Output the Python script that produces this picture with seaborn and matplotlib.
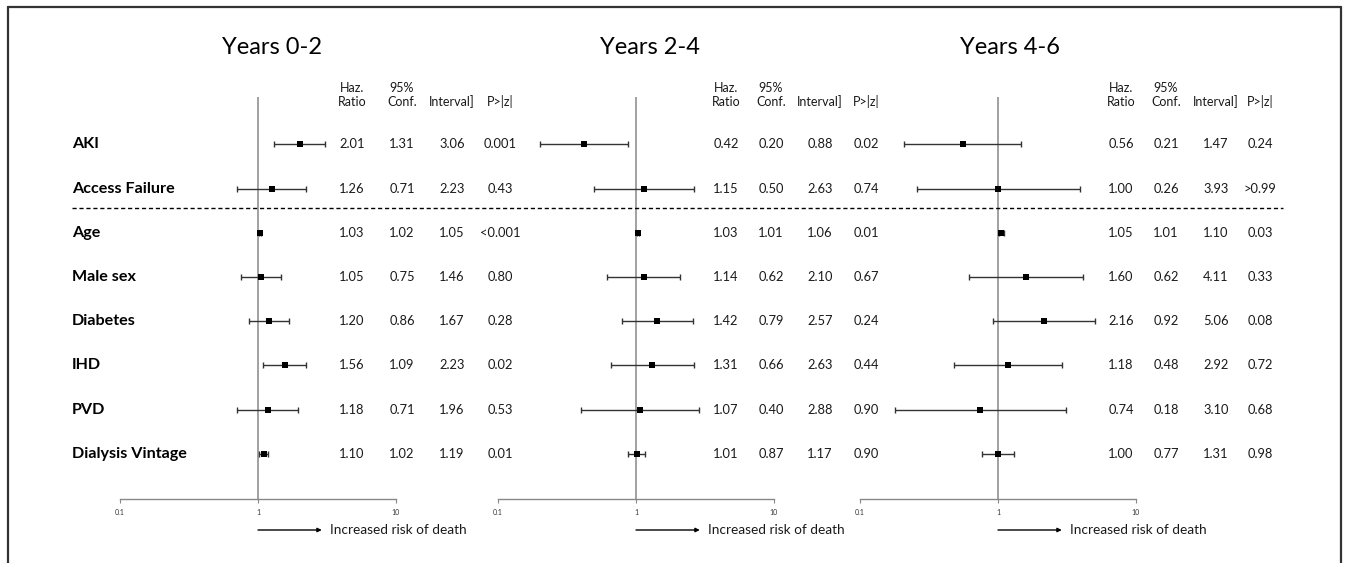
import numpy as np
import pandas as pd
import matplotlib
matplotlib.use("Agg")
import matplotlib.pyplot as plt
import seaborn as sns
from matplotlib.transforms import blended_transform_factory
from matplotlib.lines import Line2D

# ---------------- data ----------------
variables = ["AKI", "Access Failure", "Age", "Male sex", "Diabetes", "IHD", "PVD", "Dialysis Vintage"]
titles = ["Years 0-2", "Years 2-4", "Years 4-6"]

p1_hr = [2.01, 1.26, 1.03, 1.05, 1.20, 1.56, 1.18, 1.10]
p1_lo = [1.31, 0.71, 1.02, 0.75, 0.86, 1.09, 0.71, 1.02]
p1_hi = [3.06, 2.23, 1.05, 1.46, 1.67, 2.23, 1.96, 1.19]
p1_p = ["0.001", "0.43", "<0.001", "0.80", "0.28", "0.02", "0.53", "0.01"]

p2_hr = [0.42, 1.15, 1.03, 1.14, 1.42, 1.31, 1.07, 1.01]
p2_lo = [0.20, 0.50, 1.01, 0.62, 0.79, 0.66, 0.40, 0.87]
p2_hi = [0.88, 2.63, 1.06, 2.10, 2.57, 2.63, 2.88, 1.17]
p2_p = ["0.02", "0.74", "0.01", "0.67", "0.24", "0.44", "0.90", "0.90"]

p3_hr = [0.56, 1.00, 1.05, 1.60, 2.16, 1.18, 0.74, 1.00]
p3_lo = [0.21, 0.26, 1.01, 0.62, 0.92, 0.48, 0.18, 0.77]
p3_hi = [1.47, 3.93, 1.10, 4.11, 5.06, 2.92, 3.10, 1.31]
p3_p = ["0.24", ">0.99", "0.03", "0.33", "0.08", "0.72", "0.68", "0.98"]

header_top = ["Haz.", "95%", "", ""]
header_bottom = ["Ratio", "Conf.", "Interval]", "P>|z|"]
xticks = [0.1, 1, 10]
xticklabels = ["0.1", "1", "10"]
arrow_label = "Increased risk of death"

panels = [
    (p1_hr, p1_lo, p1_hi, p1_p),
    (p2_hr, p2_lo, p2_hi, p2_p),
    (p3_hr, p3_lo, p3_hi, p3_p),
]

# ---------------- layout (pixels) ----------------
W, H = 1345, 563
sns.set_theme(style="white")
plt.rcParams["font.family"] = ["Lato", "DejaVu Sans"]

fig = plt.figure(figsize=(W / 100, H / 100), dpi=100)
fig.patch.set_facecolor("white")

ax_left_px = [120, 498, 860]
ax_width_px = 276
ax_top_px, ax_bot_px = 97, 499
col_px = [[352, 402, 452, 500], [726, 771, 820, 866], [1121, 1166, 1216, 1260]]
title_px = [272, 650, 1010]
label_x_px = 72
row_top_margin, row_bot_margin = 1.07, 1.02

def fx(px):
    return px / W

def fy(py):
    return 1 - py / H

n = len(variables)
axes = []
for k, (hr, lo, hi, pv) in enumerate(panels):
    ax = fig.add_axes([fx(ax_left_px[k]), fy(ax_bot_px), ax_width_px / W, (ax_bot_px - ax_top_px) / H])
    axes.append(ax)
    df = pd.DataFrame({"var": variables, "hr": hr, "lo": lo, "hi": hi, "row": np.arange(n)})
    ax.set_xscale("log")
    ax.set_xlim(0.1, 10)
    ax.set_ylim(n - 1 + row_bot_margin, -row_top_margin)
    ax.axvline(1, color="#9a9a9a", lw=1.3, zorder=1)
    ax.errorbar(df["hr"], df["row"],
                xerr=[df["hr"] - df["lo"], df["hi"] - df["hr"]],
                fmt="none", ecolor="#333333", elinewidth=1.0, capsize=2.2, capthick=1.0,
                zorder=2, clip_on=False)
    sns.scatterplot(data=df, x="hr", y="row", marker="s", s=22, color="black",
                    edgecolor="black", linewidth=0, ax=ax, zorder=3, legend=False, clip_on=False)
    ax.set_xlabel("")
    ax.set_ylabel("")
    ax.set_yticks([])
    ax.set_xticks(xticks)
    ax.set_xticklabels(xticklabels, fontsize=5, color="#333333")
    ax.xaxis.set_minor_locator(matplotlib.ticker.NullLocator())
    ax.tick_params(axis="x", which="major", direction="out", length=3, width=0.8,
                   color="#888888", pad=4, bottom=True)
    for s in ["top", "left", "right"]:
        ax.spines[s].set_visible(False)
    ax.spines["bottom"].set_color("#888888")
    ax.spines["bottom"].set_linewidth(1.0)
    ax.patch.set_alpha(0)

    # table columns
    tr = blended_transform_factory(fig.transFigure, ax.transData)
    for i in range(n):
        vals = [f"{hr[i]:.2f}", f"{lo[i]:.2f}", f"{hi[i]:.2f}", pv[i]]
        for c, v in enumerate(vals):
            fig.text(fx(col_px[k][c]), i, v, transform=tr, ha="center", va="center",
                     fontsize=9.3, color="#1a1a1a")
    for c in range(4):
        if header_top[c]:
            fig.text(fx(col_px[k][c]), fy(88), header_top[c], ha="center", va="center",
                     fontsize=9, color="#1a1a1a")
        fig.text(fx(col_px[k][c]), fy(102), header_bottom[c], ha="center", va="center",
                 fontsize=9, color="#1a1a1a")

    # title
    fig.text(fx(title_px[k]), fy(48), titles[k], ha="center", va="center", fontsize=17, color="black")

    # arrow
    ax.annotate("", xy=(2.9, fy(530)), xytext=(1, fy(530)),
                xycoords=("data", "figure fraction"), textcoords=("data", "figure fraction"),
                arrowprops=dict(arrowstyle="-|>", color="black", lw=1.0, mutation_scale=6,
                                shrinkA=0, shrinkB=0), annotation_clip=False)
    ax.annotate(arrow_label, xy=(3.3, fy(530)), xycoords=("data", "figure fraction"),
                ha="left", va="center", fontsize=9.8, color="#1a1a1a", annotation_clip=False)

# row labels
tr0 = blended_transform_factory(fig.transFigure, axes[0].transData)
for i, v in enumerate(variables):
    fig.text(fx(label_x_px), i, v, transform=tr0, ha="left", va="center",
             fontsize=11.6, fontweight="bold", color="black")

# dashed separator between outcome rows and covariates
fig.add_artist(Line2D([fx(72), fx(1283)], [1.45, 1.45], transform=tr0, color="black",
                      lw=1.0, linestyle=(0, (3, 2))))

# frame (left, top, right)
frame_kw = dict(transform=fig.transFigure, color="#333333", lw=1.6)
fig.add_artist(Line2D([fx(8), fx(8)], [0, fy(7)], **frame_kw))
fig.add_artist(Line2D([fx(8), fx(1341)], [fy(7), fy(7)], **frame_kw))
fig.add_artist(Line2D([fx(1341), fx(1341)], [0, fy(7)], **frame_kw))

fig.savefig("out.png", dpi=100, facecolor="white")
